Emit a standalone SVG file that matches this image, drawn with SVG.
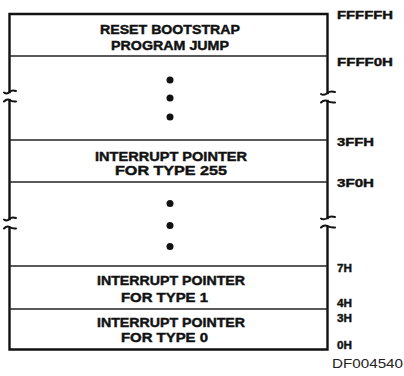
<svg xmlns="http://www.w3.org/2000/svg" width="404" height="376" viewBox="0 0 404 376">
<style>
.bg{fill:#fff}
.frame{fill:none;stroke:#111;stroke-width:2.4;stroke-linecap:square}
.brk{fill:none;stroke:#111;stroke-width:2;stroke-linecap:round}
.div{stroke:#222;stroke-width:1.5}
.t{font-family:"Liberation Sans",Arial,sans-serif;font-weight:bold;font-size:13.5px;fill:#111;stroke:#111;stroke-width:0.45;text-anchor:middle}
.a{font-family:"Liberation Sans",Arial,sans-serif;font-weight:bold;font-size:11.5px;fill:#111;stroke:#111;stroke-width:0.4}
.dot{fill:#111}
.id{font-family:"Liberation Sans",Arial,sans-serif;font-size:13.5px;fill:#222}
</style>
<rect class="bg" width="404" height="376"/>

<g id="frame">
<path class="frame" d="M9.5,92 V14 H327.5 V93"/>
<path class="frame" d="M9.5,100 V219"/>
<path class="frame" d="M327.5,101 V218"/>
<path class="frame" d="M9.5,228 V349.5 H327.5 V227"/>
<path class="brk" d="M4,92.5 C6,94 8,93.5 9.5,92 C11,90.5 13,90 16,91"/>
<path class="brk" d="M4,101.5 C6,99.5 8,99 9.5,100 C11,101 13,102 16,101.5"/>
<path class="brk" d="M321,94 C323,95.5 325,95 327.5,93 C329,91.5 331,91 335,92"/>
<path class="brk" d="M321,102.5 C323,100.5 325,100 327.5,101 C329,102 331,103 335,102.5"/>
<path class="brk" d="M4,219.5 C6,221 8,220.5 9.5,219 C11,217.5 13,217 16,218"/>
<path class="brk" d="M4,228.5 C6,226.5 8,226 9.5,227 C11,228 13,229 16,228.5"/>
<path class="brk" d="M321,218.5 C323,220 325,219.5 327.5,218 C329,216.5 331,216 335,217"/>
<path class="brk" d="M321,227.5 C323,225.5 325,225 327.5,226 C329,227 331,228 335,227.5"/>
</g>

<g id="connectors">
<line class="div" x1="9.5" y1="56" x2="327.5" y2="56"/>
<line class="div" x1="9.5" y1="140" x2="327.5" y2="140"/>
<line class="div" x1="9.5" y1="182" x2="327.5" y2="182"/>
<line class="div" x1="9.5" y1="266" x2="327.5" y2="266"/>
<line class="div" x1="9.5" y1="309" x2="327.5" y2="309"/>
</g>

<g id="reset">
<text class="t" x="170" y="34.3" textLength="140" lengthAdjust="spacingAndGlyphs">RESET BOOTSTRAP</text>
<text class="t" x="170" y="50" textLength="118" lengthAdjust="spacingAndGlyphs">PROGRAM JUMP</text>
</g>

<g id="gap1">
<circle class="dot" cx="170" cy="80" r="3.5"/>
<circle class="dot" cx="170" cy="98" r="3.5"/>
<circle class="dot" cx="170" cy="117" r="3.5"/>
</g>

<g id="type255">
<text class="t" x="171" y="160.7" textLength="152" lengthAdjust="spacingAndGlyphs">INTERRUPT POINTER</text>
<text class="t" x="171" y="175" textLength="112" lengthAdjust="spacingAndGlyphs">FOR TYPE 255</text>
</g>

<g id="gap2">
<circle class="dot" cx="170" cy="203.5" r="3.5"/>
<circle class="dot" cx="170" cy="225.5" r="3.5"/>
<circle class="dot" cx="170" cy="246.5" r="3.5"/>
</g>

<g id="type1">
<text class="t" x="171" y="285" textLength="148" lengthAdjust="spacingAndGlyphs">INTERRUPT POINTER</text>
<text class="t" x="164.5" y="301.5" textLength="87" lengthAdjust="spacingAndGlyphs">FOR TYPE 1</text>
</g>

<g id="type0">
<text class="t" x="171" y="327" textLength="148" lengthAdjust="spacingAndGlyphs">INTERRUPT POINTER</text>
<text class="t" x="164.5" y="342" textLength="87" lengthAdjust="spacingAndGlyphs">FOR TYPE 0</text>
</g>

<g id="addresses">
<text class="a" x="337" y="18.5" textLength="56" lengthAdjust="spacingAndGlyphs">FFFFFH</text>
<text class="a" x="337" y="66" textLength="56" lengthAdjust="spacingAndGlyphs">FFFF0H</text>
<text class="a" x="337" y="146" textLength="37" lengthAdjust="spacingAndGlyphs">3FFH</text>
<text class="a" x="337" y="187" textLength="37" lengthAdjust="spacingAndGlyphs">3F0H</text>
<text class="a" x="337" y="272" textLength="15" lengthAdjust="spacingAndGlyphs">7H</text>
<text class="a" x="337" y="307" textLength="15" lengthAdjust="spacingAndGlyphs">4H</text>
<text class="a" x="337" y="322" textLength="15" lengthAdjust="spacingAndGlyphs">3H</text>
<text class="a" x="337" y="349" textLength="15" lengthAdjust="spacingAndGlyphs">0H</text>
</g>

<text class="id" x="332" y="368" textLength="71" lengthAdjust="spacingAndGlyphs">DF004540</text>
</svg>
